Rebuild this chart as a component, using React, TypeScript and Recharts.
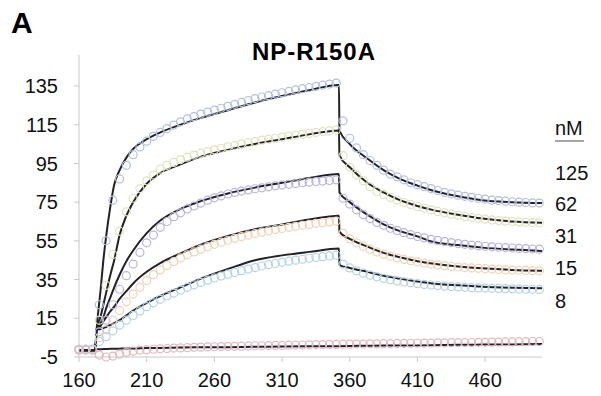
import React from "react";
import { LineChart, Line, XAxis, YAxis } from "recharts";

// sensorgram: NP-R150A binding, circles = measured, black = 1:1 fit
const obsTime = [
  160, 165, 170, 175, 180, 185, 190, 195, 200, 205, 210, 215, 220, 225, 230, 235, 240, 245, 250, 255,
  260, 265, 270, 275, 280, 285, 290, 295, 300, 305, 310, 315, 320, 325, 330, 335, 340, 345, 350,
  355, 360, 365, 370, 375, 380, 385, 390, 395, 400, 405, 410, 415, 420, 425, 430, 435, 440, 445, 450,
  455, 460, 465, 470, 475, 480, 485, 490, 495, 500,
];

const obs125 = [
  -1, -1, -1, 22, 55, 76, 87, 94, 99.5, 103.5, 106.5, 109, 111, 113, 114.8, 116.5, 118, 119.2, 120.5, 121.5,
  122.5, 123.5, 124.5, 125.5, 126.5, 127.5, 128.5, 129.3, 130, 130.8, 131.5, 132.2, 133, 133.6, 134.2, 134.8, 135.4, 136, 136.5,
  117, 108, 103, 99.5, 96.5, 94, 91.5, 89.5, 88, 86.5, 85, 84, 83, 82, 81, 80, 79.3, 78.6, 78, 77.5,
  77, 76.5, 76, 75.8, 75.5, 75.2, 75, 74.8, 74.6, 74.5,
];
const obs62 = [
  -1, -1, -1, 14, 32, 48, 60, 70, 77, 82, 86, 89, 92, 94, 95.5, 97, 98.2, 99.3, 100.3, 101.2,
  102, 102.8, 103.6, 104.3, 105, 105.7, 106.3, 107, 107.5, 108, 108.6, 109.1, 109.6, 110, 110.5, 111, 111.4, 111.8, 112.2,
  99, 93, 89, 86, 83, 80.5, 79, 77.5, 76, 74.8, 73.8, 72.8, 71.8, 71, 70.2, 69.5, 68.8, 68.2, 67.6, 67,
  66.6, 66.2, 65.8, 65.5, 65.2, 65, 64.8, 64.6, 64.4, 64.3,
];
const obs31 = [
  -1, -1, -1, 8, 14, 22, 30, 37, 43, 49, 54, 58, 62, 65, 67.5, 69.5, 71.5, 73, 74.5, 76,
  77.2, 78.2, 79.2, 80, 80.7, 81.3, 81.9, 82.4, 82.9, 83.4, 83.8, 84.2, 84.6, 85, 85.3, 85.6, 85.9, 86.2, 86.5,
  77, 74, 71, 68.5, 66.5, 64.5, 63, 61.5, 60.3, 59.2, 58.2, 57.3, 56.5, 55.8, 55.2, 54.6, 54.1, 53.6, 53.2, 52.8,
  52.5, 52.2, 51.9, 51.7, 51.5, 51.3, 51.1, 51, 50.8, 50.7,
];
const obs15 = [
  -1, -1, -1, 5, 9, 14, 19, 23.5, 27.5, 31, 34.5, 37.5, 40, 42.3, 44.3, 46.2, 47.8, 49.3, 50.7, 52,
  53.2, 54.3, 55.3, 56.3, 57.2, 58, 58.8, 59.5, 60.2, 60.8, 61.4, 62, 62.5, 63, 63.5, 64, 64.4, 64.8, 65.2,
  59, 56, 54, 52.2, 50.7, 49.3, 48.1, 47.1, 46.2, 45.4, 44.7, 44.1, 43.5, 43, 42.6, 42.2, 41.8, 41.5, 41.2, 41,
  40.8, 40.6, 40.4, 40.2, 40, 39.9, 39.8, 39.7, 39.6, 39.5,
];
const obs8 = [
  -1, -1, -1, 3, 5.5, 8.5, 11.5, 14, 16.5, 18.8, 21, 23, 24.8, 26.5, 28, 29.5, 31, 32.3, 33.5, 34.7,
  35.8, 36.8, 37.8, 38.7, 39.6, 40.4, 41.2, 42, 42.7, 43.3, 43.9, 44.5, 45, 45.5, 46, 46.4, 46.8, 47.2, 47.6,
  43, 41, 39.5, 38.3, 37.3, 36.4, 35.6, 34.9, 34.3, 33.8, 33.3, 32.9, 32.5, 32.2, 31.9, 31.6, 31.4, 31.2, 31, 30.8,
  30.7, 30.6, 30.5, 30.4, 30.3, 30.2, 30.1, 30, 30, 29.9,
];
const obs0 = [
  -1.5, -1.5, -1.5, -4, -5, -4.5, -3.5, -2.5, -2, -1.5, -1.2, -1, -0.8, -0.6, -0.4, -0.3, -0.2, 0, 0.1, 0.2,
  0.3, 0.4, 0.5, 0.5, 0.6, 0.7, 0.8, 0.8, 0.9, 1, 1, 1.1, 1.2, 1.2, 1.3, 1.4, 1.4, 1.5, 1.5,
  1.6, 1.6, 1.7, 1.7, 1.8, 1.8, 1.9, 1.9, 2, 2, 2.1, 2.1, 2.2, 2.2, 2.3, 2.3, 2.4, 2.4, 2.5, 2.5,
  2.6, 2.6, 2.7, 2.7, 2.8, 2.8, 2.9, 2.9, 3, 3,
];

const fitTime = [
  160, 172, 173, 176, 178, 180, 183, 186, 190, 195, 200, 210, 220, 235, 250, 270, 290, 310, 330, 352,
  352.4, 360, 373, 385, 397, 410, 421, 440, 458, 480, 502,
];
const fit125 = [
  -1.5, -1.5, 9, 30, 45, 57, 72, 84, 91.5, 98, 102.5, 107.5, 111, 115, 118.5, 122.5, 126.5, 129.8, 132.8, 135.5,
  112, 105, 97.5, 91.5, 87, 83.5, 81, 78, 76, 75, 74.5,
];
const fit62 = [
  -1.5, -1.5, 9, 16, 22, 28, 37, 45, 58, 68, 75, 84.5, 90, 94.5, 98.5, 102, 105, 107.5, 110, 112,
  99, 93, 85, 80, 76, 73, 71, 68.5, 66.5, 65, 64.3,
];
const fit31 = [
  -1.5, -1.5, 9, 12.5, 15.5, 20, 25.5, 31, 37.5, 44.5, 50, 59, 65.5, 71.5, 75.5, 79.5, 82.5, 85, 87.5, 89.5,
  80, 75, 68.5, 63.5, 60, 57.3, 54.5, 52.8, 51.5, 50.5, 49.8,
];
const fit15 = [
  -1.5, -1.5, 9, 11, 13.5, 15.5, 18.5, 21, 25, 29, 33, 39, 43.5, 48.5, 53, 57.5, 61, 63.5, 66, 68,
  59.6, 56, 52, 48.8, 46.5, 44.5, 43.3, 41.8, 40.8, 40, 39.6,
];
const fit8 = [
  -1.5, -1.5, 9, 9.5, 10, 10.5, 11.5, 12.5, 14, 16.5, 19, 23, 26.5, 31, 35.5, 40.5, 45, 47.5, 49.3, 51,
  42.5, 41, 39, 37, 35.5, 34, 33, 32, 31.3, 30.8, 30.5,
];
const fit0 = [
  -1.5, -1.5, -1, -1, -0.9, -0.9, -0.8, -0.8, -0.7, -0.6, -0.6, -0.4, -0.3, -0.1, 0, 0.1, 0.3, 0.4, 0.5, 0.6,
  0.6, 0.7, 0.8, 0.9, 0.9, 1, 1.1, 1.3, 1.4, 1.5, 1.7,
];

const xTicks = [160, 210, 260, 310, 360, 410, 460];
const yTicks = [-5, 15, 35, 55, 75, 95, 115, 135];
const concLabels = ["125", "62", "31", "15", "8"];

const series = [
  { name: "125", obs: obs125, fit: fit125, color: "#b3bfe2" },
  { name: "62", obs: obs62, fit: fit62, color: "#e0e3bd" },
  { name: "31", obs: obs31, fit: fit31, color: "#b9b4de" },
  { name: "15", obs: obs15, fit: fit15, color: "#efd3b8" },
  { name: "8", obs: obs8, fit: fit8, color: "#b6d2e6" },
  { name: "0", obs: obs0, fit: fit0, color: "#e2b8c0" },
];

const toRows = (xs: number[], ys: number[]) => xs.map((t, i) => ({ t, v: ys[i] }));

const font = "'Liberation Sans', Arial, sans-serif";
const labelY = [180, 211, 243, 275, 308];

export default function App() {
  return (
    <div style={{ position: "absolute", left: 0, top: 0, width: 601, height: 396, background: "#fff", fontFamily: font }}>
      <LineChart width={601} height={396} margin={{ top: 55, right: 59, left: 0, bottom: 0 }}>
        <XAxis
          dataKey="t"
          type="number"
          domain={[160, 502]}
          ticks={xTicks}
          allowDuplicatedCategory={false}
          height={39}
          stroke="#c8c8c8"
          tickSize={5}
          tickMargin={11}
          tick={{ fill: "#111", fontSize: 20, fontFamily: font }}
        />
        <YAxis
          type="number"
          domain={[-5, 151]}
          ticks={yTicks}
          width={79}
          stroke="#c8c8c8"
          tickSize={5}
          tickMargin={16}
          tick={{ fill: "#111", fontSize: 20, fontFamily: font }}
        />
        {series.map((s) => (
          <Line
            key={"o" + s.name}
            data={toRows(obsTime, s.obs)}
            dataKey="v"
            stroke="none"
            dot={{ r: 4, fill: "none", stroke: s.color, strokeWidth: 1.2 }}
            activeDot={false}
            isAnimationActive={false}
          />
        ))}
        {series.map((s) => (
          <Line
            key={"f" + s.name}
            data={toRows(fitTime, s.fit)}
            dataKey="v"
            type="monotone"
            stroke="#222228"
            strokeWidth={2}
            dot={false}
            activeDot={false}
            isAnimationActive={false}
          />
        ))}
      </LineChart>
      <svg width={601} height={396} style={{ position: "absolute", left: 0, top: 0, pointerEvents: "none" }}>
        <text x={11} y={33} fontSize={30} fontWeight="bold" fill="#000" fontFamily={font}>A</text>
        <text x={314} y={60} fontSize={24} fontWeight="bold" fill="#000" textAnchor="middle" letterSpacing={1} fontFamily={font}>
          NP-R150A
        </text>
        <text x={555} y={135} fontSize={20} fill="#111" fontFamily={font}>nM</text>
        <line x1={555} x2={584} y1={141} y2={141} stroke="#8a8a8a" strokeWidth={1.5} />
        {concLabels.map((c, i) => (
          <text key={c} x={555} y={labelY[i]} fontSize={20} fill="#111" fontFamily={font}>{c}</text>
        ))}
      </svg>
    </div>
  );
}
